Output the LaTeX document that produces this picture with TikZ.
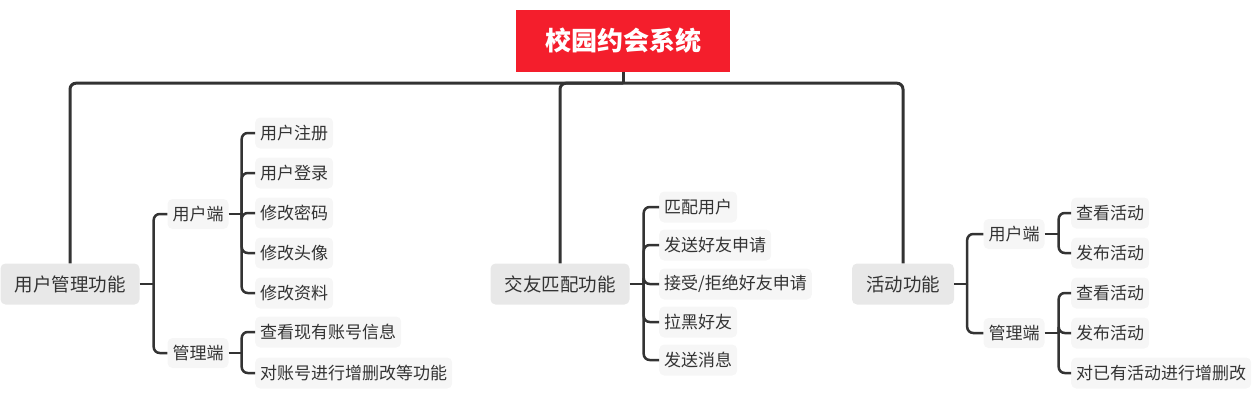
\documentclass[tikz,border=0pt]{standalone}
\usepackage{fontspec}
\setmainfont{Noto Sans CJK SC}
\usetikzlibrary{positioning, calc}
\definecolor{rootred}{RGB}{244, 30, 44}
\definecolor{linegray}{RGB}{51, 51, 51}
\definecolor{topicgray}{RGB}{232, 232, 232}
\definecolor{leafgray}{RGB}{246, 246, 246}
\tikzset{
  rootbox/.style={fill=rootred, text=white, font=\fontsize{26}{30}\selectfont\bfseries,
                  minimum width=214pt, minimum height=62pt, inner sep=0pt},
  topicbox/.style={fill=topicgray, text=linegray, rounded corners=5pt,
                   font=\fontsize{18.5}{22}\selectfont, minimum height=41pt, inner xsep=14pt},
  subbox/.style={fill=leafgray, text=linegray, rounded corners=5pt,
                 font=\fontsize{17}{20}\selectfont, minimum height=30pt, inner xsep=5pt},
  leafbox/.style={subbox, anchor=west, minimum height=31pt},
  bus/.style={draw=linegray, line width=3pt, rounded corners=6pt},
  brace/.style={draw=linegray, line width=2.5pt, rounded corners=6pt},
  stub/.style={draw=linegray, line width=2.5pt},
}
\begin{document}
\begin{tikzpicture}[x=1pt, y=-1pt]
        \useasboundingbox (0,0) rectangle (1256,408);
        % root
        \node[rootbox] (root) at (623,41) {校园约会系统};
        % main topics
        \node[topicbox] (user) at (70,284) {用户管理功能};
        \node[topicbox] (friend) at (560,284) {交友匹配功能};
        \node[topicbox] (event) at (903,284) {活动功能};
        % user management
        \node[subbox] (uclient) at (198,214) {用户端};
        \node[subbox] (uadmin) at (198,353) {管理端};
        \node[leafbox] (ua) at (255,133) {用户注册};
        \node[leafbox] (ub) at (255,173) {用户登录};
        \node[leafbox] (uc) at (255,213) {修改密码};
        \node[leafbox] (ud) at (255,253) {修改头像};
        \node[leafbox] (ue) at (255,293) {修改资料};
        \node[leafbox] (uf) at (255,332) {查看现有账号信息};
        \node[leafbox] (ug) at (255,373) {对账号进行增删改等功能};
        % friend matching
        \node[leafbox] (fa) at (659,207) {匹配用户};
        \node[leafbox] (fb) at (659,245) {发送好友申请};
        \node[leafbox] (fc) at (659,284) {接受/拒绝好友申请};
        \node[leafbox] (fd) at (659,322) {拉黑好友};
        \node[leafbox] (fe) at (659,360) {发送消息};
        % events
        \node[subbox] (eclient) at (1014,234) {用户端};
        \node[subbox] (eadmin) at (1014,333) {管理端};
        \node[leafbox] (ea) at (1071,213) {查看活动};
        \node[leafbox] (eb) at (1071,253) {发布活动};
        \node[leafbox] (ec) at (1071,293) {查看活动};
        \node[leafbox] (ed) at (1071,333) {发布活动};
        \node[leafbox] (ee) at (1071,373) {对已有活动进行增删改};
        % top bus
        \coordinate (hub) at ($(root.south)+(0,11)$);
        \draw[bus, rounded corners=0pt] (root.south) -- (hub);
        \foreach \t in {user,friend,event}
          \draw[bus] (hub) -| (\t.north);
        % bracket forks
        \coordinate (ufork) at ($(user.east)+(14,0)$);
        \coordinate (ucfork) at ($(uclient.east)+(13,0)$);
        \coordinate (uafork) at ($(uadmin.east)+(13,0)$);
        \coordinate (ffork) at ($(friend.east)+(14,0)$);
        \coordinate (efork) at ($(event.east)+(13,0)$);
        \coordinate (ecfork) at ($(eclient.east)+(14,0)$);
        \coordinate (eafork) at ($(eadmin.east)+(14,0)$);
        \draw[stub] (user.east) -- (ufork);
        \draw[stub] (uclient.east) -- (ucfork);
        \draw[stub] (uadmin.east) -- (uafork);
        \draw[stub] (friend.east) -- (ffork);
        \draw[stub] (event.east) -- (efork);
        \draw[stub] (eclient.east) -- (ecfork);
        \draw[stub] (eadmin.east) -- (eafork);
        % brackets
        \foreach \c in {uclient,uadmin}
          \draw[brace] (ufork) |- (\c.west);
        \foreach \c in {ua,ub,uc,ud,ue}
          \draw[brace] (ucfork) |- (\c.west);
        \foreach \c in {uf,ug}
          \draw[brace] (uafork) |- (\c.west);
        \foreach \c in {fa,fb,fc,fd,fe}
          \draw[brace] (ffork) |- (\c.west);
        \foreach \c in {eclient,eadmin}
          \draw[brace] (efork) |- (\c.west);
        \foreach \c in {ea,eb}
          \draw[brace] (ecfork) |- (\c.west);
        \foreach \c in {ec,ed,ee}
          \draw[brace] (eafork) |- (\c.west);
\end{tikzpicture}
\end{document}
